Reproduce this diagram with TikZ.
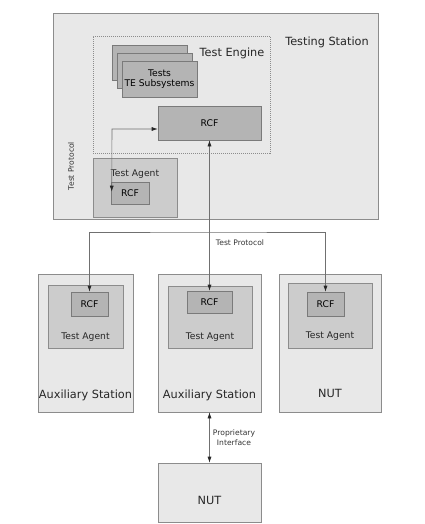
\documentclass[tikz,border=0pt]{standalone}
\usepackage{fontspec}
\setmainfont{DejaVu Sans}
\usetikzlibrary{arrows.meta,calc}
\definecolor{outerfill}{HTML}{E8E8E8}
\definecolor{innerfill}{HTML}{CCCCCC}
\definecolor{rcffill}{HTML}{B4B4B4}
\definecolor{edge}{HTML}{8C8C8C}
\definecolor{darkedge}{HTML}{7A7A7A}
\definecolor{wire}{HTML}{707070}
\tikzset{
  outerbox/.style={draw=edge,fill=outerfill,line width=0.6pt,inner sep=0pt},
  innerbox/.style={draw=edge,fill=innerfill,line width=0.6pt,inner sep=0pt},
  rcfbox/.style={draw=darkedge,fill=rcffill,line width=0.6pt,inner sep=0pt,font=\fontsize{9.2}{10.5}\selectfont},
  dashbox/.style={draw=edge,dash pattern=on 1pt off 1pt,line width=0.6pt,inner sep=0pt},
  biglabel/.style={font=\fontsize{11.3}{13}\selectfont,text=black!85,inner sep=0pt},
  smalllabel/.style={font=\fontsize{9.2}{10.5}\selectfont,text=black!85,inner sep=0pt,align=center},
  tinylabel/.style={font=\fontsize{7.6}{9.7}\selectfont,text=black!80,inner sep=0pt,align=center},
  tip/.tip={Latex[length=6pt,width=4pt,color=black!85,fill=black!85]},
  wirearrow/.style={draw=wire,line width=0.6pt,tip-tip},
}
\begin{document}
\begin{tikzpicture}[x=1pt,y=-1pt]
\useasboundingbox (0,0) rectangle (424,524);
% Testing Station
\node[outerbox,minimum width=325pt,minimum height=206pt] (ts) at (215.5,116) {};
\node[biglabel] (tslabel) at (327,42) {Testing Station};
% Test Engine
\node[dashbox,minimum width=177pt,minimum height=117pt] (te) at (181.5,94.5) {};
\node[biglabel] (telabel) at (232,53) {Test Engine};
% stacked boxes
\node[rcfbox,minimum width=75pt,minimum height=35pt] (stackA) at (149.5,62.5) {};
\node[rcfbox,minimum width=75pt,minimum height=35pt] (stackB) at (154.5,70.5) {};
\node[rcfbox,minimum width=75pt,minimum height=36pt,align=center] (stackC) at (159.5,79) {Tests\\TE Subsystems};
% engine RCF
\node[rcfbox,minimum width=103pt,minimum height=34pt] (rcfE) at (209.5,123) {RCF};
% Test agent in testing station
\node[innerbox,minimum width=84pt,minimum height=59pt] (taS) at (135,187.5) {};
\node[smalllabel] (taSlabel) at (135,174) {Test Agent};
\node[rcfbox,minimum width=38pt,minimum height=22pt] (rcfS) at (130,193) {RCF};
\node[tinylabel,rotate=90] (tplabelS) at (71,166) {Test Protocol};
\coordinate (cornerS) at (112,129);
\draw[wirearrow] ($(rcfS.north west)+(1,10)$) -- (cornerS) -- (rcfE.west |- cornerS);
% lower stations
\node[outerbox,minimum width=95pt,minimum height=138pt] (aux1) at (85.5,343) {};
\node[innerbox,minimum width=75pt,minimum height=63pt] (ta1) at (85.5,316.5) {};
\node[rcfbox,minimum width=37pt,minimum height=24pt] (rcfA1) at (89.5,304) {RCF};
\node[smalllabel] (ta1label) at (85.5,337) {Test Agent};
\node[biglabel] (aux1label) at (85.5,395) {Auxiliary Station};

\node[outerbox,minimum width=103pt,minimum height=138pt] (aux2) at (209.5,343) {};
\node[innerbox,minimum width=84pt,minimum height=62pt] (ta2) at (210,317) {};
\node[rcfbox,minimum width=45pt,minimum height=22pt] (rcfA2) at (209.5,302) {RCF};
\node[smalllabel] (ta2label) at (210,337) {Test Agent};
\node[biglabel] (aux2label) at (209.5,395) {Auxiliary Station};

\node[outerbox,minimum width=102pt,minimum height=138pt] (nut1) at (330,343) {};
\node[innerbox,minimum width=84pt,minimum height=65pt] (ta3) at (330,315.5) {};
\node[rcfbox,minimum width=37pt,minimum height=24pt] (rcfN) at (325.5,304) {RCF};
\node[smalllabel] (ta3label) at (330,336) {Test Agent};
\node[biglabel] (nut1label) at (330,393) {NUT};

\node[outerbox,minimum width=103pt,minimum height=59pt] (nut2) at (209.5,492.5) {};
\node[biglabel] (nut2label) at (209.5,500) {NUT};

% test protocol bus
\coordinate (bus) at (209.5,232);
\draw[wirearrow] (rcfE.south) -- (rcfA2.north);
\draw[wirearrow] (rcfA1.north) |- (bus) -| (rcfN.north);
\node[tinylabel] (tplabel) at (240,243) {Test Protocol};
% proprietary interface
\draw[wirearrow] (aux2.south) -- (nut2.north);
\node[tinylabel] (pilabel) at (234,438) {Proprietary\\Interface};
\end{tikzpicture}
\end{document}
